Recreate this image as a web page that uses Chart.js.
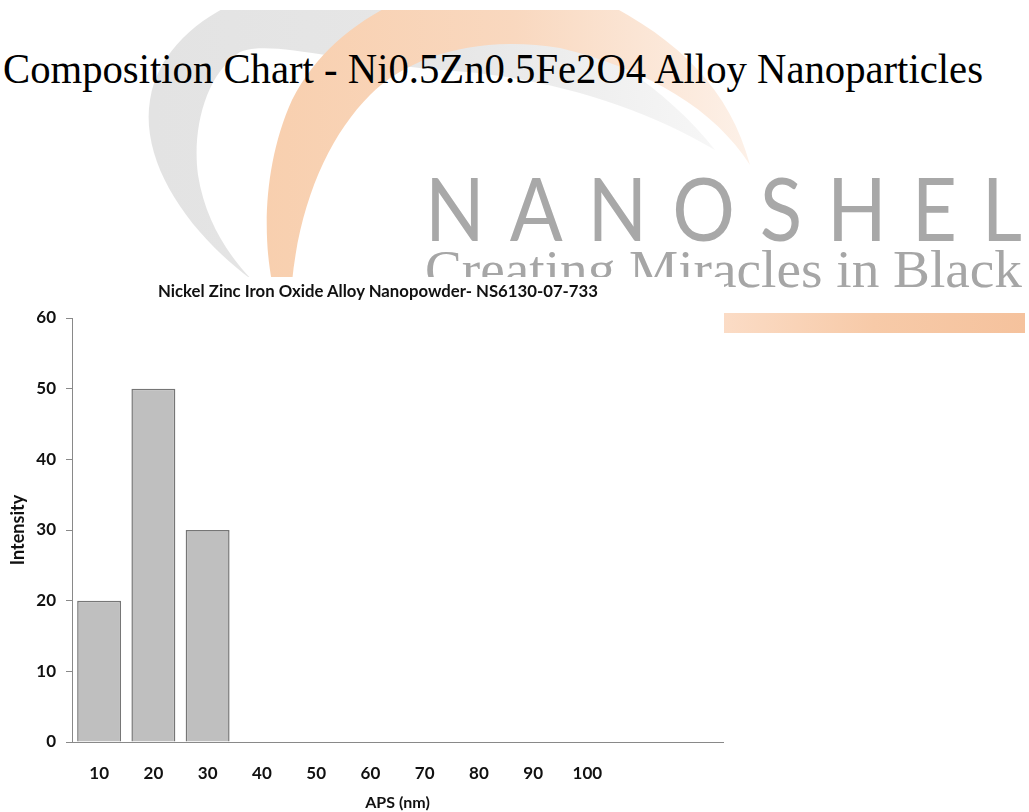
<!DOCTYPE html>
<html lang="en">
<head>
<meta charset="utf-8">
<title>Composition Chart - Ni0.5Zn0.5Fe2O4</title>
<script src="https://cdn.jsdelivr.net/npm/chart.js@4.4.1/dist/chart.umd.min.js"></script>
<style>
    html, body { margin: 0; padding: 0; background: #fff; }
    #pagina { position: relative; width: 1029px; height: 812px; overflow: hidden; background: #fff; }
    #fondo { position: absolute; left: 0; top: 0; }
    .texto { position: absolute; white-space: nowrap; line-height: 1; transform-origin: 0 0; }
    #titulo { left: 3px; top: 48px; font-family: "Liberation Serif", "Times New Roman", serif; font-size: 42px; color: #000; }
    #marca { left: 425px; top: 163px; font-family: Lato, sans-serif; font-weight: 400; font-size: 88px; letter-spacing: 28px; color: #a8a8a8; }
    #lema { left: 425px; top: 243px; font-family: "Liberation Serif", serif; font-size: 53px; color: #a6a6a6; }
    #barraMarca { position: absolute; left: 722px; top: 313px; width: 303px; height: 20px;
                  background: linear-gradient(to right, #fbdcc6, #f7caa8 50%, #f5c29d); }
    #cajaGrafico { position: absolute; left: 0; top: 277px; width: 724px; height: 535px; background: #fff; }
    #tituloGrafico { left: 158px; top: 5px; font-family: Lato, sans-serif; font-weight: bold; font-size: 17px; color: #111; }
    #cajaGrafico canvas { position: absolute; left: 0; top: 0; }
</style>
</head>
<body>
<div id="pagina">
    <svg id="fondo" width="1029" height="812" viewBox="0 0 1029 812">
        <defs>
            <linearGradient id="grisFade" x1="0" y1="0" x2="1029" y2="0" gradientUnits="userSpaceOnUse">
                <stop offset="0.15" stop-color="#e3e3e3"/>
                <stop offset="0.45" stop-color="#e7e7e7"/>
                <stop offset="0.70" stop-color="#f7f7f7"/>
            </linearGradient>
            <linearGradient id="naranjaFade" x1="0" y1="0" x2="1029" y2="0" gradientUnits="userSpaceOnUse">
                <stop offset="0.25" stop-color="#f8cfae"/>
                <stop offset="0.50" stop-color="#f9d8bf"/>
                <stop offset="0.74" stop-color="#fdf2ea"/>
            </linearGradient>
        </defs>
        <path fill="url(#grisFade)" d="M 252 280 C 185 230, 140 160, 150 100 C 158 50, 200 18, 240 0 L 470 0
                 C 570 25, 660 80, 715 150 C 640 105, 540 75, 440 70 C 330 60, 270 40, 240 52
                 C 205 75, 192 130, 198 175 C 205 220, 228 255, 252 280 Z"/>
        <path fill="url(#naranjaFade)" d="M 272 282 C 262 230, 265 160, 292 100 C 315 55, 350 25, 400 0 L 600 0
                 C 680 40, 730 90, 750 165 C 715 110, 650 70, 560 48 C 480 35, 410 55, 370 95
                 C 330 135, 300 200, 292 282 Z"/>
        <rect x="0" y="0" width="1029" height="10" fill="#fff"/>
    </svg>
    <div id="titulo" class="texto">Composition Chart - Ni0.5Zn0.5Fe2O4 Alloy Nanoparticles</div>
    <div id="marca" class="texto">NANOSHEL</div>
    <div id="lema" class="texto">Creating Miracles in Black</div>
    <div id="barraMarca"></div>
    <div id="cajaGrafico">
        <canvas id="ChartAPS" width="724" height="535"></canvas>
        <div id="tituloGrafico" class="texto">Nickel Zinc Iron Oxide Alloy Nanopowder- NS6130-07-733</div>
    </div>
</div>
<script>
// datos
const tamanos = ['10', '20', '30', '40', '50', '60', '70', '80', '90', '100', '', ''];
const intensidad = [20, 50, 30, 0, 0, 0, 0, 0, 0, 0, 0, 0];
const marcasY = [0, 10, 20, 30, 40, 50, 60];

const colorEje = '#898989';
const colorTexto = '#111';

// ajusta el ancho de un texto al de la imagen
const ajustarAncho = (id, ancho, espaciado = 0) => {
    const el = document.getElementById(id);
    const natural = el.getBoundingClientRect().width - espaciado;
    el.style.transform = `scaleX(${ancho / natural})`;
};

ajustarAncho('titulo', 980);
ajustarAncho('marca', 597, 28);
ajustarAncho('lema', 597);
ajustarAncho('tituloGrafico', 440);

const ctx = document.getElementById('ChartAPS');

const chart = new Chart(ctx, {
    type: 'bar',
    data: {
        labels: tamanos,
        datasets: [{
            label: 'Intensity',
            data: intensidad,
            backgroundColor: '#bfbfbf',
            borderColor: '#767676',
            borderWidth: 1.5,
            barPercentage: 0.81,
            categoryPercentage: 1.0
        }]
    },
    options: {
        responsive: false,
        animation: false,
        layout: {
            padding: { top: 41, right: 1, bottom: 0, left: 0 }
        },
        plugins: {
            legend: { display: false },
            title: { display: false },
            tooltip: { enabled: false }
        },
        scales: {
            x: {
                grid: { display: false, drawTicks: false },
                border: { display: true, color: colorEje, width: 1 },
                ticks: {
                    color: colorTexto,
                    padding: 21,
                    maxRotation: 0,
                    autoSkip: false,
                    font: { family: 'Lato', weight: 'bold', size: 17 }
                },
                title: {
                    display: true,
                    text: 'APS (nm)',
                    color: colorTexto,
                    padding: { top: 0, bottom: 0 },
                    font: { family: 'Lato', weight: 'bold', size: 16, lineHeight: 1.2 }
                },
                afterFit: (scale) => { scale.height = 70; }
            },
            y: {
                min: 0,
                max: 60,
                afterBuildTicks: (scale) => {
                    scale.ticks = marcasY.map(v => ({ value: v }));
                },
                grid: {
                    drawOnChartArea: false,
                    drawTicks: true,
                    tickLength: 6,
                    color: colorEje
                },
                border: { display: true, color: colorEje, width: 1 },
                ticks: {
                    color: colorTexto,
                    padding: 10,
                    font: { family: 'Lato', weight: 'bold', size: 17 }
                },
                title: {
                    display: true,
                    text: 'Intensity',
                    color: colorTexto,
                    padding: { top: 7, bottom: 0 },
                    font: { family: 'Lato', weight: 'bold', size: 18, lineHeight: 1.2 }
                },
                afterFit: (scale) => { scale.width = 72; }
            }
        }
    }
});
</script>
</body>
</html>
